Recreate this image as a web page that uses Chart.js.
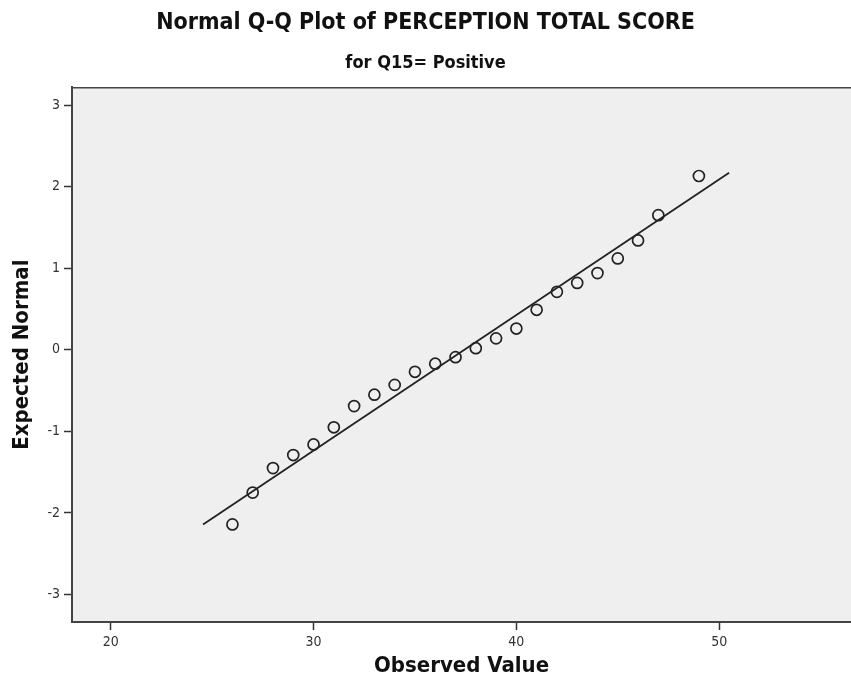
<!DOCTYPE html>
<html>
<head>
<meta charset="utf-8">
<script src="https://cdn.jsdelivr.net/npm/chart.js@4"></script>
<style>
  html, body { margin: 0; padding: 0; background: #ffffff; overflow: hidden; }
  #wrap { width: 851px; height: 685px; position: relative; }
</style>
</head>
<body>
<div id="wrap"><canvas id="c"></canvas></div>
<script>
// ---- Data ----
const observedValues = [26, 27, 28, 29, 30, 31, 32, 33, 34, 35, 36, 37, 38, 39, 40, 41, 42, 43, 44, 45, 46, 47, 49];
const expectedNormal = [-2.14, -1.75, -1.45, -1.29, -1.16, -0.95, -0.69, -0.55, -0.43, -0.27, -0.17, -0.09, 0.02, 0.14, 0.26, 0.49, 0.71, 0.82, 0.94, 1.12, 1.34, 1.65, 2.13];
const refLineX = [24.55, 50.49];
const refLineY = [-2.14, 2.17];
const xTickValues = [20, 30, 40, 50];
const yTickValues = [-3, -2, -1, 0, 1, 2, 3];

const titleText = 'Normal Q-Q Plot of PERCEPTION TOTAL SCORE';
const subtitleText = 'for Q15= Positive';
const xTitle = 'Observed Value';
const yTitle = 'Expected Normal';

const FONT = "'DejaVu Sans Condensed', 'Liberation Sans Narrow', 'Open Sans', sans-serif";

const points = observedValues.map((v, i) => ({ x: v, y: expectedNormal[i] }));
const line = refLineX.map((v, i) => ({ x: v, y: refLineY[i] }));

const frame = {
  id: 'frame',
  beforeDraw(chart) {
    const { ctx, chartArea: a } = chart;
    ctx.save();
    ctx.fillStyle = '#efefef';
    ctx.fillRect(a.left, a.top, a.right - a.left, a.bottom - a.top);
    ctx.strokeStyle = '#444';
    ctx.lineWidth = 1.5;
    ctx.beginPath();
    ctx.moveTo(a.left, a.top + 0.5);
    ctx.lineTo(a.right, a.top + 0.5);
    ctx.stroke();
    ctx.restore();
  }
};

function noPad(s) {
  s.paddingLeft = 0; s.paddingRight = 0; s.paddingTop = 0; s.paddingBottom = 0;
}

new Chart(document.getElementById('c'), {
  type: 'scatter',
  data: {
    datasets: [
      {
        data: points,
        pointRadius: 5.5,
        pointBorderWidth: 1.7,
        pointBackgroundColor: 'rgba(0,0,0,0)',
        pointBorderColor: '#222',
        order: 1
      },
      {
        data: line,
        showLine: true,
        pointRadius: 0,
        borderColor: '#222',
        borderWidth: 1.8,
        order: 2
      }
    ]
  },
  options: {
    responsive: true,
    maintainAspectRatio: false,
    animation: false,
    layout: { padding: 0, autoPadding: false },
    plugins: {
      legend: { display: false },
      tooltip: { enabled: false },
      title: {
        display: true,
        text: titleText,
        color: '#111',
        font: { family: FONT, size: 23, weight: 'bold', lineHeight: 1.2 },
        padding: { top: 9, bottom: 7 }
      },
      subtitle: {
        display: true,
        text: subtitleText,
        color: '#111',
        font: { family: FONT, size: 18, weight: 'bold', lineHeight: 1.2 },
        padding: { top: 9, bottom: 13.1 }
      }
    },
    scales: {
      x: {
        type: 'linear',
        min: 18.09,
        max: 56.5,
        afterBuildTicks: s => { s.ticks = xTickValues.map(v => ({ value: v })); },
        afterFit: s => { s.height = 63; noPad(s); },
        grid: { drawOnChartArea: false, drawTicks: true, tickLength: 8, color: '#333', tickWidth: 1.5 },
        border: { display: true, color: '#444', width: 2 },
        ticks: { color: '#333', padding: 4, font: { family: FONT, size: 14 } },
        title: {
          display: true,
          text: xTitle,
          color: '#111',
          font: { family: FONT, size: 22, weight: 'bold', lineHeight: 1.2 },
          padding: { top: 0, bottom: 5.5 }
        }
      },
      y: {
        type: 'linear',
        min: -3.336,
        max: 3.217,
        afterBuildTicks: s => { s.ticks = yTickValues.map(v => ({ value: v })); },
        afterFit: s => { s.width = 72; noPad(s); },
        grid: { drawOnChartArea: false, drawTicks: true, tickLength: 8, color: '#333', tickWidth: 1.5 },
        border: { display: true, color: '#444', width: 2 },
        ticks: { color: '#333', padding: 4, font: { family: FONT, size: 14 } },
        title: {
          display: true,
          text: yTitle,
          color: '#111',
          font: { family: FONT, size: 22, weight: 'bold', lineHeight: 1.2 },
          padding: { top: 9, bottom: 0 }
        }
      }
    }
  },
  plugins: [frame]
});
</script>
</body>
</html>
